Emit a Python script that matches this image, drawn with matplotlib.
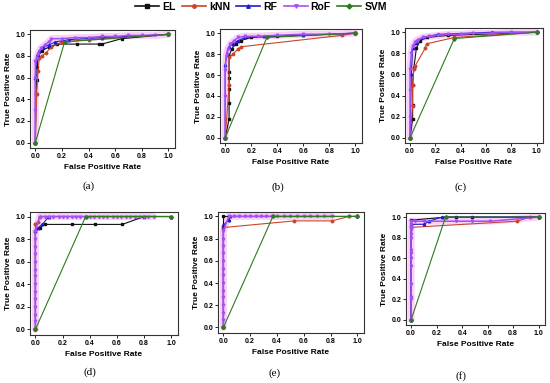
"""
ROC curves of the five classifiers for the six datasets (a)-(f).
"""

import matplotlib
matplotlib.use("Agg")
import matplotlib.pyplot as plt
from matplotlib.lines import Line2D

# ============================================================
# DATA
# ============================================================

MODELS = ["EL", "kNN", "RF", "RoF", "SVM"]
PANEL_LABELS = ["(a)", "(b)", "(c)", "(d)", "(e)", "(f)"]

# ---- panel (a)
el_a_fpr = [0, 0.005, 0.01, 0.015, 0.02, 0.05, 0.1, 0.16, 0.31, 0.48, 0.5, 0.65, 1.0]
el_a_tpr = [0, 0.45, 0.58, 0.70, 0.80, 0.85, 0.88, 0.91, 0.91, 0.91, 0.91, 0.96, 1.0]
knn_a_fpr = [0, 0.01, 0.02, 0.03, 0.05, 0.08, 0.12, 0.2, 0.4, 1.0]
knn_a_tpr = [0, 0.45, 0.66, 0.78, 0.80, 0.83, 0.88, 0.93, 0.95, 1.0]
rf_a_fpr = [0, 0, 0.01, 0.03, 0.06, 0.1, 0.15, 0.25, 0.5, 1.0]
rf_a_tpr = [0, 0.6, 0.8, 0.85, 0.88, 0.9, 0.93, 0.95, 0.97, 1.0]
rof_a_fpr = [0, 0, 0, 0, 0.01, 0.02, 0.04, 0.07, 0.1, 0.12, 0.2, 0.3, 0.4, 0.5, 0.6, 0.7, 0.8, 0.9, 1.0]
rof_a_tpr = [0, 0.3, 0.6, 0.75, 0.78, 0.82, 0.87, 0.9, 0.93, 0.96, 0.96, 0.97, 0.97, 0.98, 0.98, 0.99, 0.99, 0.99, 1.0]
svm_a_fpr = [0, 0.22, 1.0]
svm_a_tpr = [0, 0.93, 1.0]

# ---- panel (b)
el_b_fpr = [0, 0.03, 0.03, 0.03, 0.03, 0.03, 0.03, 0.05, 0.08, 0.12, 0.2, 0.4, 1.0]
el_b_tpr = [0, 0.18, 0.33, 0.47, 0.57, 0.63, 0.78, 0.85, 0.9, 0.93, 0.96, 0.97, 1.0]
knn_b_fpr = [0, 0.03, 0.03, 0.06, 0.1, 0.12, 0.9, 1.0]
knn_b_tpr = [0, 0.5, 0.77, 0.80, 0.85, 0.87, 0.98, 1.0]
rf_b_fpr = [0, 0, 0.01, 0.03, 0.06, 0.1, 0.15, 0.3, 0.6, 1.0]
rf_b_tpr = [0, 0.7, 0.8, 0.87, 0.9, 0.93, 0.96, 0.97, 0.98, 1.0]
rof_b_fpr = [0, 0, 0, 0.01, 0.02, 0.04, 0.07, 0.1, 0.15, 0.25, 0.4, 0.6, 0.8, 1.0]
rof_b_tpr = [0, 0.4, 0.65, 0.8, 0.85, 0.9, 0.93, 0.96, 0.97, 0.97, 0.98, 0.99, 0.99, 1.0]
svm_b_fpr = [0, 0.32, 1.0]
svm_b_tpr = [0, 0.96, 1.0]

# ---- panel (c)
el_c_fpr = [0, 0.02, 0.02, 0.02, 0.03, 0.05, 0.08, 0.13, 0.3, 1.0]
el_c_tpr = [0, 0.18, 0.31, 0.5, 0.66, 0.85, 0.92, 0.95, 0.97, 1.0]
knn_c_fpr = [0, 0.02, 0.02, 0.03, 0.04, 0.12, 0.13, 0.35, 1.0]
knn_c_tpr = [0, 0.3, 0.5, 0.65, 0.68, 0.85, 0.89, 0.95, 1.0]
rf_c_fpr = [0, 0.01, 0.02, 0.05, 0.1, 0.22, 0.65, 1.0]
rf_c_tpr = [0, 0.6, 0.85, 0.9, 0.95, 0.98, 1.0, 1.0]
rof_c_fpr = [0, 0, 0, 0, 0.01, 0.02, 0.04, 0.06, 0.1, 0.15, 0.22, 0.3, 0.4, 0.5, 0.65, 0.8, 1.0]
rof_c_tpr = [0, 0.2, 0.45, 0.65, 0.8, 0.87, 0.91, 0.93, 0.95, 0.96, 0.97, 0.98, 0.98, 0.99, 0.99, 1.0, 1.0]
svm_c_fpr = [0, 0.35, 1.0]
svm_c_tpr = [0, 0.94, 1.0]

# ---- panel (d)
el_d_fpr = [0, 0, 0.03, 0.07, 0.27, 0.44, 0.64, 0.8, 1.0]
el_d_tpr = [0, 0.87, 0.9, 0.93, 0.93, 0.93, 0.93, 1.0, 1.0]
knn_d_fpr = [0, 0, 0.02, 0.03, 1.0]
knn_d_tpr = [0, 0.93, 0.95, 1.0, 1.0]
rf_d_fpr = [0, 0, 0.02, 0.05, 0.1, 1.0]
rf_d_tpr = [0, 0.87, 0.9, 0.93, 1.0, 1.0]
rof_d_fpr = [0, 0, 0, 0, 0, 0, 0, 0, 0, 0, 0, 0, 0, 0,
             0.03, 0.07, 0.1, 0.13, 0.17, 0.2, 0.23, 0.27, 0.3, 0.33, 0.37, 0.4,
             0.43, 0.47, 0.5, 0.53, 0.57, 0.6, 0.63, 0.67, 0.7, 0.73, 0.77, 0.8, 0.83, 0.87]
rof_d_tpr = [0, 0.07, 0.13, 0.2, 0.27, 0.33, 0.4, 0.47, 0.53, 0.6, 0.67, 0.73, 0.8, 0.87,
             1.0, 1.0, 1.0, 1.0, 1.0, 1.0, 1.0, 1.0, 1.0, 1.0, 1.0, 1.0,
             1.0, 1.0, 1.0, 1.0, 1.0, 1.0, 1.0, 1.0, 1.0, 1.0, 1.0, 1.0, 1.0, 1.0]
svm_d_fpr = [0, 0.37, 1.0]
svm_d_tpr = [0, 1.0, 1.0]

# ---- panel (e)
el_e_fpr = [0, 0, 0.94, 1.0]
el_e_tpr = [0, 1.0, 1.0, 1.0]
knn_e_fpr = [0, 0, 0.53, 0.81, 0.94, 1.0]
knn_e_tpr = [0, 0.9, 0.96, 0.96, 1.0, 1.0]
rf_e_fpr = [0, 0, 0.04, 0.05, 1.0]
rf_e_tpr = [0, 0.92, 0.97, 1.0, 1.0]
rof_e_fpr = [0, 0, 0, 0, 0, 0, 0, 0, 0, 0, 0, 0, 0, 0,
             0.04, 0.08, 0.12, 0.16, 0.2, 0.24, 0.28, 0.32, 0.36, 0.4,
             0.45, 0.5, 0.55, 0.6, 0.65, 0.7, 0.75, 0.81]
rof_e_tpr = [0, 0.07, 0.13, 0.2, 0.27, 0.33, 0.4, 0.47, 0.53, 0.6, 0.67, 0.73, 0.8, 0.87,
             1.0, 1.0, 1.0, 1.0, 1.0, 1.0, 1.0, 1.0, 1.0, 1.0,
             1.0, 1.0, 1.0, 1.0, 1.0, 1.0, 1.0, 1.0]
svm_e_fpr = [0, 0.37, 1.0]
svm_e_tpr = [0, 1.0, 1.0]

# ---- panel (f)
el_f_fpr = [0, 0, 0.27, 0.35, 0.48, 1.0]
el_f_tpr = [0, 0.97, 1.0, 1.0, 1.0, 1.0]
knn_f_fpr = [0, 0, 0.83, 0.93, 1.0]
knn_f_tpr = [0, 0.9, 0.96, 1.0, 1.0]
rf_f_fpr = [0, 0, 0.1, 0.14, 0.24, 1.0]
rf_f_tpr = [0, 0.93, 0.93, 0.96, 1.0, 1.0]
rof_f_fpr = [0, 0, 0, 0, 0, 0, 0, 0, 0, 0, 0, 0, 0, 0,
             0.03, 0.1, 0.35, 0.48, 0.62, 1.0]
rof_f_tpr = [0, 0.2, 0.22, 0.35, 0.52, 0.6, 0.65, 0.68, 0.8, 0.84, 0.87, 0.9, 0.93, 0.96,
             0.96, 0.96, 0.96, 0.96, 0.96, 1.0]
svm_f_fpr = [0, 0.27, 1.0]
svm_f_tpr = [0, 1.0, 1.0]

panels = [
    {"EL": (el_a_fpr, el_a_tpr), "kNN": (knn_a_fpr, knn_a_tpr), "RF": (rf_a_fpr, rf_a_tpr),
     "RoF": (rof_a_fpr, rof_a_tpr), "SVM": (svm_a_fpr, svm_a_tpr)},
    {"EL": (el_b_fpr, el_b_tpr), "kNN": (knn_b_fpr, knn_b_tpr), "RF": (rf_b_fpr, rf_b_tpr),
     "RoF": (rof_b_fpr, rof_b_tpr), "SVM": (svm_b_fpr, svm_b_tpr)},
    {"EL": (el_c_fpr, el_c_tpr), "kNN": (knn_c_fpr, knn_c_tpr), "RF": (rf_c_fpr, rf_c_tpr),
     "RoF": (rof_c_fpr, rof_c_tpr), "SVM": (svm_c_fpr, svm_c_tpr)},
    {"EL": (el_d_fpr, el_d_tpr), "kNN": (knn_d_fpr, knn_d_tpr), "RF": (rf_d_fpr, rf_d_tpr),
     "RoF": (rof_d_fpr, rof_d_tpr), "SVM": (svm_d_fpr, svm_d_tpr)},
    {"EL": (el_e_fpr, el_e_tpr), "kNN": (knn_e_fpr, knn_e_tpr), "RF": (rf_e_fpr, rf_e_tpr),
     "RoF": (rof_e_fpr, rof_e_tpr), "SVM": (svm_e_fpr, svm_e_tpr)},
    {"EL": (el_f_fpr, el_f_tpr), "kNN": (knn_f_fpr, knn_f_tpr), "RF": (rf_f_fpr, rf_f_tpr),
     "RoF": (rof_f_fpr, rof_f_tpr), "SVM": (svm_f_fpr, svm_f_tpr)},
]

# ============================================================
# STYLE
# ============================================================

COLORS = {"EL": "#111111", "kNN": "#cc4428", "RF": "#1c1ccc", "RoF": "#a450f5", "SVM": "#2e7a1e"}
MARKERS = {"EL": "s", "kNN": "o", "RF": "^", "RoF": "v", "SVM": "D"}
HALO = "#f7c6f7"

# frame boxes in pixels: left, right, top, bottom
BOXES = [
    (30, 175, 30, 148), (220, 362, 29, 143), (405, 543, 28, 143),
    (30, 178, 212, 335), (218, 364, 212, 333), (406, 545, 213, 325),
]
# subfigure label centres in pixels
LABEL_POS = [(89, 186), (278, 187), (461, 187), (90, 372), (275, 373), (461, 376)]

W, H = 550, 383
SANS = "Liberation Sans"
SERIF = "Liberation Serif"

# ============================================================
# PLOTS
# ============================================================

fig = plt.figure(figsize=(W / 100, H / 100), dpi=100)

for i, data in enumerate(panels):
    x0, x1, y0, y1 = BOXES[i]
    ax = fig.add_axes([x0 / W, 1 - y1 / H, (x1 - x0) / W, (y1 - y0) / H])

    # pink halo under the RoF curve
    ax.plot(*data["RoF"], color=HALO, linewidth=5, alpha=0.8, zorder=1,
            solid_joinstyle="round", solid_capstyle="round")

    for name in ["EL", "kNN", "RF", "RoF", "SVM"]:
        fpr, tpr = data[name]
        lw = 1.1 if name == "RoF" else 0.8
        ax.plot(fpr, tpr, color=COLORS[name], marker=MARKERS[name],
                markersize=1.8, linewidth=lw, zorder=3)

    ax.set_xlim(-0.04, 1.05)
    ax.set_ylim(-0.05, 1.04)
    ax.set_xticks([0, 0.2, 0.4, 0.6, 0.8, 1.0])
    ax.set_yticks([0, 0.2, 0.4, 0.6, 0.8, 1.0])
    ax.set_xticklabels([f"{v:.1f}" for v in ax.get_xticks()])
    ax.set_yticklabels([f"{v:.1f}" for v in ax.get_yticks()])
    ax.tick_params(labelsize=5, length=2, width=0.6, pad=1.5)
    for lab in ax.get_xticklabels() + ax.get_yticklabels():
        lab.set_fontweight("bold")
        lab.set_family(SANS)
    for sp in ax.spines.values():
        sp.set_linewidth(0.8)
        sp.set_color("#333333")

    ax.set_xlabel("False Positive Rate", fontsize=6, fontweight="bold", family=SANS, labelpad=3)
    ax.set_ylabel("True Positive Rate", fontsize=6, fontweight="bold", family=SANS, labelpad=2)

    lx, ly = LABEL_POS[i]
    fig.text(lx / W, 1 - ly / H, PANEL_LABELS[i], ha="center", va="center",
             fontsize=8, family=SERIF)

# shared legend on top
handles = [Line2D([], [], color=COLORS[m], marker=MARKERS[m], markersize=2.5, linewidth=1.2)
           for m in MODELS]
fig.legend(handles, MODELS, loc="center", bbox_to_anchor=(261 / W, 1 - 7 / H), ncol=5,
           frameon=False, handlelength=2.3, handletextpad=0.3, columnspacing=0.6,
           prop={"family": SANS, "weight": "bold", "size": 7.5})

fig.savefig("out.png", dpi=100)
